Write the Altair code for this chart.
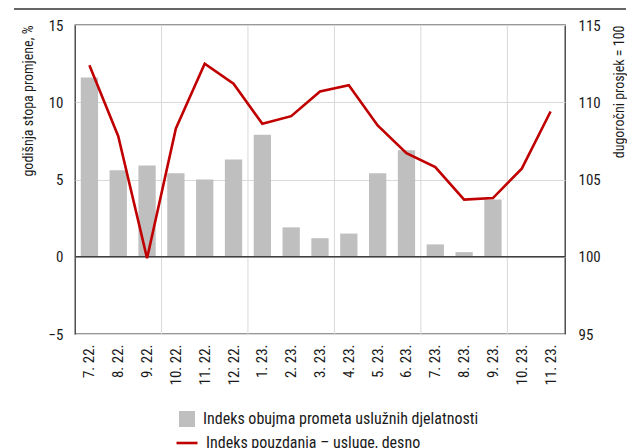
import altair as alt
import pandas as pd

months = ["7. 22.", "8. 22.", "9. 22.", "10. 22.", "11. 22.", "12. 22.",
          "1. 23.", "2. 23.", "3. 23.", "4. 23.", "5. 23.", "6. 23.",
          "7. 23.", "8. 23.", "9. 23.", "10. 23.", "11. 23."]
turnover = [11.6, 5.6, 5.9, 5.4, 5.0, 6.3, 7.9, 1.9, 1.2, 1.5, 5.4, 6.9, 0.8, 0.3, 3.7]
confidence = [112.4, 107.8, 99.9, 108.3, 112.5, 111.2, 108.6, 109.1, 110.7, 111.1,
              108.5, 106.7, 105.8, 103.7, 103.8, 105.7, 109.4]
grid_months = ["10. 22.", "1. 23.", "4. 23.", "7. 23.", "10. 23."]
zero_line = [0]
left_ticks = [-5, 0, 5, 10, 15]
right_ticks = [95, 100, 105, 110, 115]
bar_name = "Indeks obujma prometa uslužnih djelatnosti"
line_name = "Indeks pouzdanja – usluge, desno"

FONT = "Roboto Condensed, Liberation Sans, sans-serif"
FS = 15
TFS = 14
LFS = 16
TXT = "#1a1a1a"
W, H = 490, 309
PAD_INNER = 0.4

bar_df = pd.DataFrame({"month": months[:len(turnover)], "value": turnover, "series": bar_name})
line_df = pd.DataFrame({"month": months, "conf": confidence, "series": line_name})
grid_df = pd.DataFrame({"month": grid_months})
zero_df = pd.DataFrame({"value": zero_line})
deco_df = pd.DataFrame({"k": [0]})

xscale = alt.Scale(domain=months, paddingInner=PAD_INNER, paddingOuter=PAD_INNER / 2)
xaxis = alt.Axis(title=None, labelAngle=270, labelAlign="right", labelBaseline="middle",
                 labelPadding=10, ticks=False, domain=False, grid=False,
                 labelFontSize=FS, labelFont=FONT, labelColor=TXT)

def X(**kw):
    return alt.X("month:N", sort=months, scale=xscale, axis=xaxis, **kw)

y_left = alt.Y("value:Q", scale=alt.Scale(domain=[-5, 15], nice=False, zero=False),
               axis=alt.Axis(values=left_ticks, title="godišnja stopa promjene, %",
                             grid=True, gridColor="#d9d9d9", gridWidth=1,
                             ticks=False, domain=False, labelPadding=12,
                             labelFontSize=FS, labelFont=FONT, labelColor=TXT,
                             titleFontSize=TFS, titleFont=FONT, titleFontWeight="normal",
                             titleColor=TXT, titleAnchor="end", titlePadding=13))

# gridline halfway between bars: band start minus half the inner gap
half_gap = PAD_INNER * (W / len(months)) / 2
grid_rules = alt.Chart(grid_df).mark_rule(color="#d9d9d9", strokeWidth=1, xOffset=-half_gap).encode(
    x=X(bandPosition=0)
)

bars = alt.Chart(bar_df).mark_bar().encode(
    x=X(),
    y=y_left,
    fill=alt.Fill("series:N", scale=alt.Scale(domain=[bar_name], range=["#bfbfbf"]),
                  legend=alt.Legend(orient="none", legendX=104, legendY=386, title=None,
                                    symbolType="square", symbolSize=256, symbolStrokeWidth=0,
                                    labelFontSize=LFS, labelFont=FONT, labelColor=TXT,
                                    labelOffset=8, padding=0, labelLimit=500)),
)

zero_rule = alt.Chart(zero_df).mark_rule(color="#404040", strokeWidth=1.3).encode(y=y_left)

left_layer = alt.layer(grid_rules, bars, zero_rule)

line = alt.Chart(line_df).mark_line(strokeWidth=2.6).encode(
    x=X(),
    y=alt.Y("conf:Q", scale=alt.Scale(domain=[95, 115], nice=False, zero=False),
            axis=alt.Axis(orient="right", values=right_ticks, title="dugoročni prosjek = 100",
                          titleAngle=270, grid=False, ticks=False, domain=False,
                          labelPadding=13, labelFontSize=FS, labelFont=FONT, labelColor=TXT,
                          titleFontSize=TFS, titleFont=FONT, titleFontWeight="normal",
                          titleColor=TXT, titleAnchor="end", titlePadding=26)),
    stroke=alt.Stroke("series:N", scale=alt.Scale(domain=[line_name], range=["#c00000"]),
                      legend=alt.Legend(orient="none", legendX=100, legendY=406, title=None,
                                        symbolType="stroke", symbolSize=441, symbolStrokeWidth=2.6,
                                        labelFontSize=LFS, labelFont=FONT, labelColor=TXT,
                                        labelOffset=7, padding=0, labelLimit=500)),
)

deco = alt.Chart(deco_df).mark_rule(color="#333333", strokeWidth=1.3).encode(
    x=alt.value(-61), x2=alt.value(551), y=alt.value(-16)
)

chart = alt.layer(left_layer, line, deco).resolve_scale(
    y="independent"
).properties(
    width=W, height=H,
    padding={"left": 5, "top": 0, "right": 0, "bottom": 0},
).configure_view(stroke="#333333", strokeWidth=1.3)

chart.save("out.html", embed_options={"renderer": "svg", "actions": False})
